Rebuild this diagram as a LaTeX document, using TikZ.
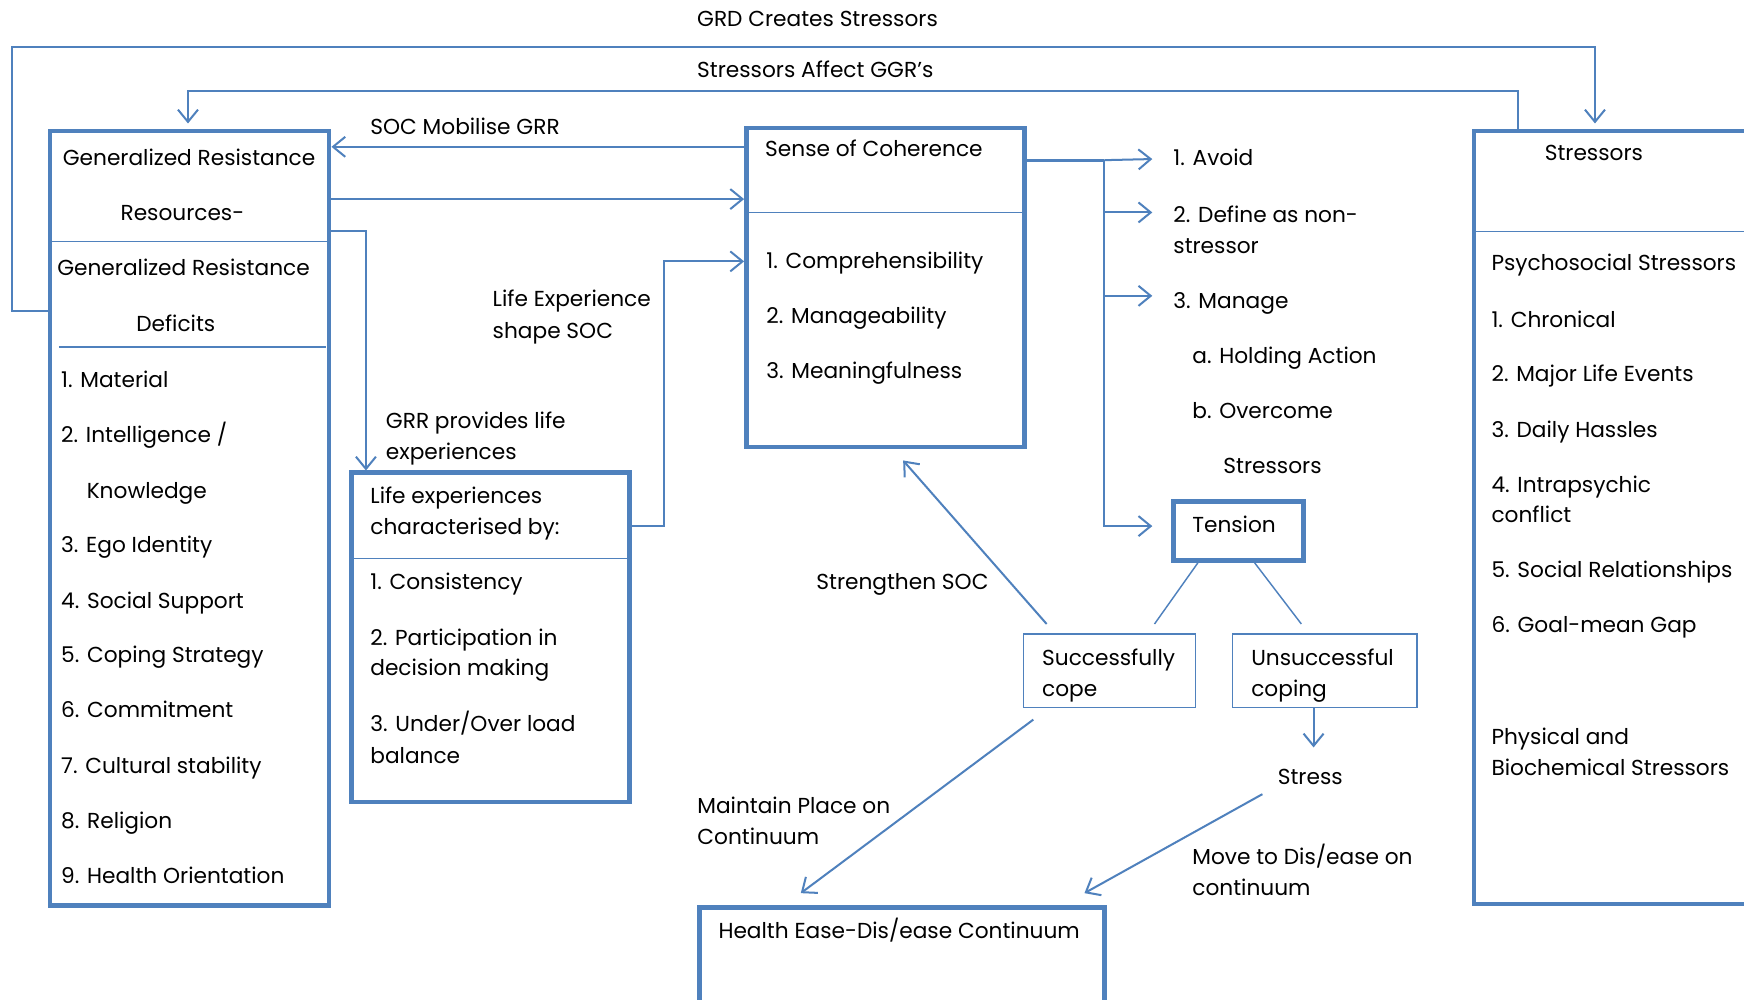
\documentclass[tikz,border=0pt]{standalone}
\usepackage{fontspec}
\setmainfont{Poppins}
\usetikzlibrary{arrows.meta}
\definecolor{lineblue}{RGB}{79,129,189}
\newcommand{\lblfont}{\fontsize{19.5}{24}\selectfont}

\begin{document}
\begin{tikzpicture}[x=1pt,y=-1pt,
  every node/.style={inner sep=0pt, outer sep=0pt, font=\lblfont, text=black},
  txt/.style={anchor=base west},
  ctxt/.style={anchor=base},
  heavybox/.style={draw=lineblue, line width=4pt, rectangle, anchor=north west},
  lightbox/.style={draw=lineblue, line width=1.3pt, rectangle, anchor=north west},
  divider/.style={draw=lineblue, line width=1.5pt},
  link/.style={draw=lineblue, line width=1.8pt},
  arrowed/.style={link, -{Straight Barb[length=11pt,width=18pt,line width=1.8pt]}},
]
\useasboundingbox (0,0) rectangle (1568,899);
\clip (0,0) rectangle (1568,899);
\fill[white] (0,0) rectangle (1568,899);

% ---------- boxes ----------
\node[heavybox, minimum width=251pt, minimum height=696pt] (grr) at (45,118) {};
\node[heavybox, minimum width=250pt, minimum height=287pt] (soc) at (671,115) {};
\node[heavybox, minimum width=250pt, minimum height=296pt] (life) at (316,425) {};
\node[heavybox, minimum width=117pt, minimum height=53pt] (tension) at (1055,451) {};
\node[lightbox, minimum width=155pt, minimum height=66pt] (succ) at (920,570) {};
\node[lightbox, minimum width=166pt, minimum height=66pt] (unsucc) at (1108,570) {};
\node[heavybox, minimum width=364pt, minimum height=120pt] (health) at (629,816) {};
\node[heavybox, minimum width=300pt, minimum height=695pt] (stress) at (1325,118) {};

% dividers inside the boxes
\draw[divider] (grr.west |- 0,217) -- (grr.east |- 0,217);
\draw[divider] (53,312) -- (293,312);
\draw[divider] (soc.west |- 0,191) -- (soc.east |- 0,191);
\draw[divider] (life.west |- 0,502) -- (life.east |- 0,502);
\draw[divider] (stress.west |- 0,208) -- (stress.east |- 0,208);

% ---------- top labels ----------
\node[ctxt] (grdlbl) at (735,24) {GRD Creates Stressors};
\node[ctxt] (affectlbl) at (733,70) {Stressors Affect GGR’s};
\node[txt] (moblbl) at (333,121) {SOC Mobilise GRR};

% ---------- GRR / GRD box ----------
\node[ctxt] (grrA) at (170,149) {Generalized Resistance};
\node[ctxt] (grrB) at (164,198) {Resources-};
\node[ctxt] (grrC) at (165,248) {Generalized Resistance};
\node[ctxt] (grrD) at (158,298) {Deficits};
\node[txt] (g1) at (55,348) {1. Material};
\node[txt] (g2) at (55,398) {2. Intelligence /};
\node[txt] (g2b) at (78,448) {Knowledge};
\node[txt] (g3) at (55,497) {3. Ego Identity};
\node[txt] (g4) at (55,547) {4. Social Support};
\node[txt] (g5) at (55,596) {5. Coping Strategy};
\node[txt] (g6) at (55,645) {6. Commitment};
\node[txt] (g7) at (55,695) {7. Cultural stability};
\node[txt] (g8) at (55,745) {8. Religion};
\node[txt] (g9) at (55,794) {9. Health Orientation};

% ---------- Sense of Coherence ----------
\node[txt] (socT) at (688,141) {Sense of Coherence};
\node[txt] (s1) at (689,241) {1. Comprehensibility};
\node[txt] (s2) at (689,291) {2. Manageability};
\node[txt] (s3) at (689,340) {3. Meaningfulness};

\node[txt] (shapeA) at (443,276) {Life Experience};
\node[txt] (shapeB) at (443,304) {shape SOC};
\node[txt] (provA) at (347,385) {GRR provides life};
\node[txt] (provB) at (347,413) {experiences};

% ---------- Life experiences ----------
\node[txt] (lA) at (333,453) {Life experiences};
\node[txt] (lB) at (333,481) {characterised by:};
\node[txt] (l1) at (333,530) {1. Consistency};
\node[txt] (l2a) at (333,580) {2. Participation in};
\node[txt] (l2b) at (333,607) {decision making};
\node[txt] (l3a) at (333,658) {3. Under/Over load};
\node[txt] (l3b) at (333,686) {balance};

% ---------- coping options ----------
\node[txt] (avoid) at (1055,149) {1. Avoid};
\node[txt] (defA) at (1055,200) {2. Define as non-};
\node[txt] (defB) at (1055,228) {stressor};
\node[txt] (manage) at (1055,277) {3. Manage};
\node[txt] (hold) at (1072,327) {a. Holding Action};
\node[txt] (overA) at (1072,376) {b. Overcome};
\node[txt] (overB) at (1100,426) {Stressors};
\node[txt] (tensT) at (1072,479) {Tension};

\node[txt] (succA) at (937,598) {Successfully};
\node[txt] (succB) at (937,626) {cope};
\node[txt] (unsA) at (1125,598) {Unsuccessful};
\node[txt] (unsB) at (1125,626) {coping};
\node[ctxt] (stressT) at (1178,705) {Stress};

\node[txt] (strlbl) at (734,530) {Strengthen SOC};
\node[txt] (mainA) at (627,731) {Maintain Place on};
\node[txt] (mainB) at (627,759) {Continuum};
\node[txt] (moveA) at (1072,777) {Move to Dis/ease on};
\node[txt] (moveB) at (1072,805) {continuum};
\node[txt] (healthT) at (646,844) {Health Ease-Dis/ease Continuum};

% ---------- Stressors ----------
\node[ctxt] (stT) at (1433,144) {Stressors};
\node[txt] (psy) at (1341,243) {Psychosocial Stressors};
\node[txt] (p1) at (1341,294) {1. Chronical};
\node[txt] (p2) at (1341,343) {2. Major Life Events};
\node[txt] (p3) at (1341,393) {3. Daily Hassles};
\node[txt] (p4a) at (1341,443) {4. Intrapsychic};
\node[txt] (p4b) at (1341,470) {conflict};
\node[txt] (p5) at (1341,519) {5. Social Relationships};
\node[txt] (p6) at (1341,569) {6. Goal-mean Gap};
\node[txt] (phyA) at (1341,669) {Physical and};
\node[txt] (phyB) at (1341,697) {Biochemical Stressors};

% ---------- connector end points ----------
\coordinate (split) at (993,144);
\coordinate (avoidIn) at (1036,143);
\coordinate (defIn) at (1036,191);
\coordinate (manIn) at (1036,266);
\coordinate (tensL) at (1077,506);
\coordinate (tensR) at (1128,506);
\coordinate (succTop) at (1038,561);
\coordinate (unsTop) at (1170,561);
\coordinate (strFrom) at (941,561);
\coordinate (strTo) at (812,414);
\coordinate (mainFrom) at (929,647);
\coordinate (mainTo) at (720,803);
\coordinate (stressIn) at (1181,672);
\coordinate (moveFrom) at (1135,714);
\coordinate (moveTo) at (975,803);

% ---------- connectors ----------
\draw[arrowed, shorten >=7pt] (grr.west |- 0,280) -- (11,280) -- (11,42) -- (1434,42) -- (1434,0 |- stress.north);
\draw[arrowed, shorten >=7pt] (1365,0 |- stress.north) -- (1365,82) -- (169,82) -- (169,0 |- grr.north);
\draw[arrowed, shorten >=2pt] (soc.west |- 0,132) -- (grr.east |- 0,132);
\draw[arrowed, shorten >=2pt] (grr.east |- 0,179) -- (soc.west |- 0,179);
\draw[arrowed, shorten >=2pt] (grr.east |- 0,208) -- (329,208) -- (329,0 |- life.north);
\draw[arrowed, shorten >=2pt] (life.east |- 0,473) -- (597,473) -- (597,235) -- (soc.west |- 0,235);

\draw[link, line width=2.6pt] (soc.east |- 0,144) -- (split);
\draw[arrowed] (split) -- (avoidIn);
\draw[arrowed] (split |- defIn) -- (defIn);
\draw[arrowed] (split |- manIn) -- (manIn);
\draw[arrowed] (split) -- (split |- 0,473) -- ([xshift=-19pt]tension.west |- 0,473);

\draw[link, line width=1.3pt] (tensL) -- (succTop);
\draw[link, line width=1.3pt] (tensR) -- (unsTop);
\draw[arrowed] (unsucc.south -| 1181,0) -- (stressIn);
\draw[arrowed] (strFrom) -- (strTo);
\draw[arrowed] (mainFrom) -- (mainTo);
\draw[arrowed] (moveFrom) -- (moveTo);
\end{tikzpicture}
\end{document}
